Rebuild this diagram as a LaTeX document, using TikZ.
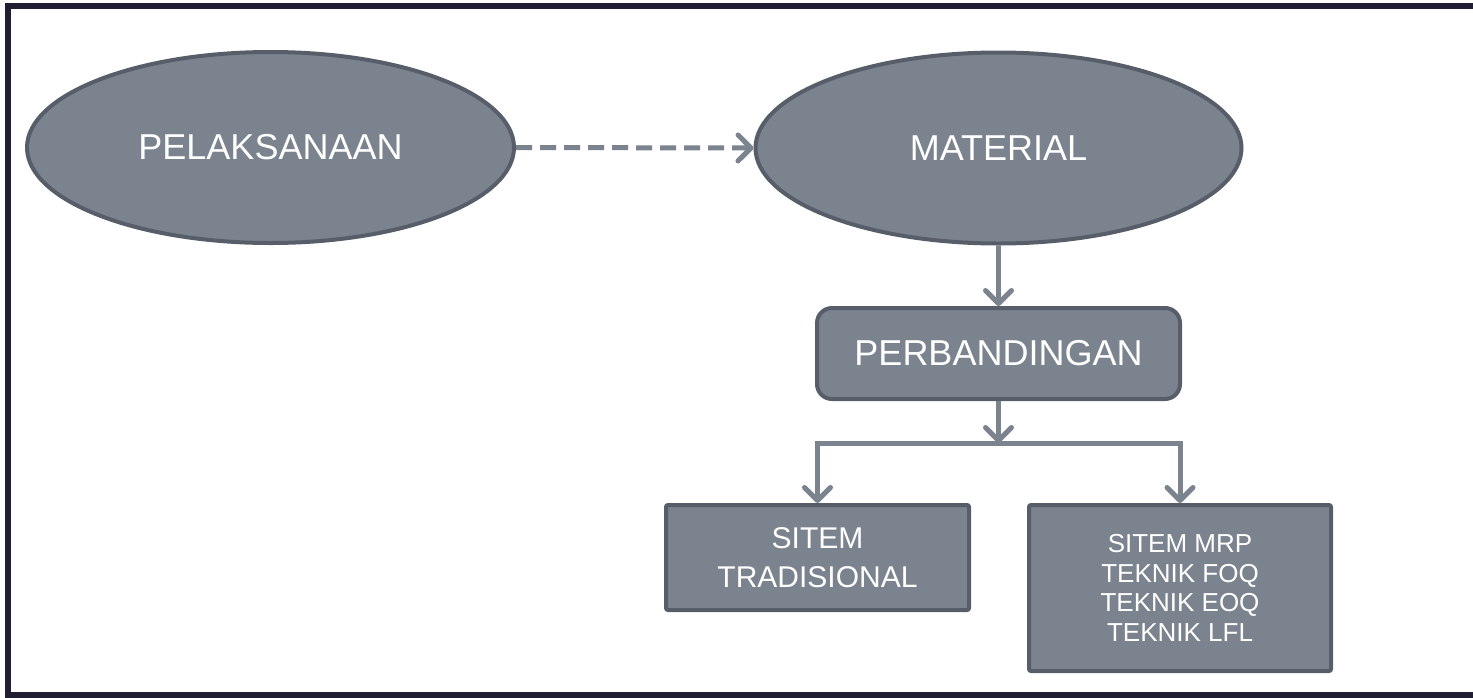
\documentclass[tikz,border=0pt]{standalone}
\usepackage{fontspec}
\setmainfont{Liberation Sans}
\usetikzlibrary{arrows.meta,shapes.geometric}

\definecolor{boxfill}{HTML}{7B838F}
\definecolor{boxline}{HTML}{585E69}
\definecolor{framecol}{HTML}{1F1E33}

\tikzset{
  base/.style={fill=boxfill, draw=boxline, line width=4pt, text=white, inner sep=0pt},
  oval/.style={base, ellipse, font=\fontsize{36}{40}\selectfont},
  rbox/.style={base, rectangle, rounded corners=15pt, font=\fontsize{36}{40}\selectfont},
  sbox/.style={base, rectangle, rounded corners=2pt, align=center},
  link/.style={draw=boxfill, line width=5pt,
    -{Straight Barb[length=13pt,width=26pt,line cap=round,line join=round]}},
  plain/.style={draw=boxfill, line width=5pt},
  framestyle/.style={draw=framecol, line width=6pt}
}

\begin{document}
\begin{tikzpicture}[x=1pt,y=-1pt]
  \useasboundingbox (0,0) rectangle (1473,697);
  % outer frame
  \draw[framestyle] (8,5.5) rectangle (1500,695);

  % nodes
  \node[oval, minimum width=487, minimum height=191] (pel) at (270.5,147.5) {PELAKSANAAN};
  \node[oval, minimum width=486, minimum height=191] (mat) at (998.5,148) {MATERIAL};
  \node[rbox, minimum width=363, minimum height=91] (per) at (998.5,353.5) {PERBANDINGAN};
  \node[sbox, minimum width=303, minimum height=105,
        font=\fontsize{30}{39}\selectfont] (trad) at (817.5,557.5) {SITEM\\TRADISIONAL};
  \node[sbox, minimum width=302, minimum height=166,
        font=\fontsize{26}{29.5}\selectfont] (mrp) at (1180,588) {SITEM MRP\\TEKNIK FOQ\\TEKNIK EOQ\\TEKNIK LFL};

  \coordinate (bar) at (998.5,443);

  % connectors
  \draw[link, dash pattern=on 16pt off 8pt] (pel.east) -- (mat.west);
  \draw[link] (mat.south) -- (per.north);
  \draw[link] (per.south) -- (bar);
  \draw[link] (bar) -| (trad.north);
  \draw[link] (bar) -| (mrp.north);
\end{tikzpicture}
\end{document}
